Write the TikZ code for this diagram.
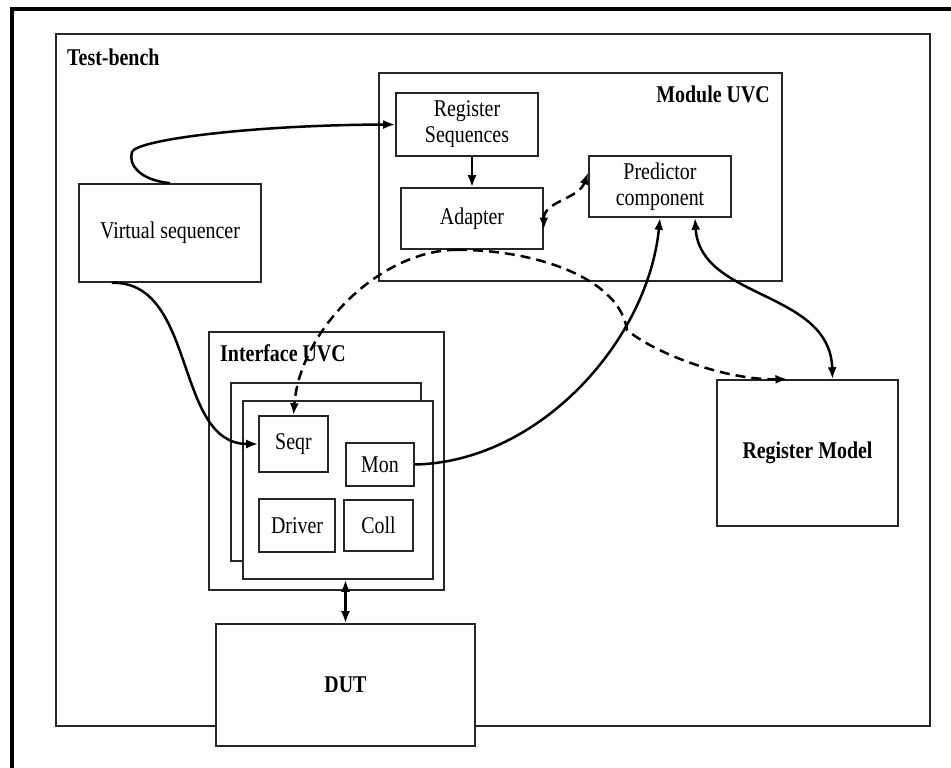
\documentclass[tikz,border=0pt]{standalone}
\usepackage{fontspec}
\setmainfont{Liberation Serif}[FakeStretch=0.83]
\usepackage{tikz}
\usetikzlibrary{arrows.meta,calc}
\newcommand{\diagfont}{\fontsize{24}{26}\selectfont}

\begin{document}
\begin{tikzpicture}[x=1pt,y=1pt,>={Latex[length=12pt,width=9pt]},
  every node/.style={font=\diagfont},
  box/.style={draw=black!85,line width=1.6pt,fill=white,inner sep=0pt,align=center},
  title/.style={font=\diagfont\bfseries,inner sep=0pt},
  link/.style={line width=2.5pt},
  dashlink/.style={link,dash pattern=on 10pt off 6pt}]
  \useasboundingbox (0,0) rectangle (951,-768);
  \clip (0,0) rectangle (951,-768);
  % page frame, runs off the right and bottom edges
  \draw[line width=3.5pt] (12,-9) rectangle (980,-800);

  % containers
  \node[box,minimum width=874,minimum height=692] (tb) at (493,-380) {};
  \node[title,anchor=west] (tblbl) at (67,-57) {Test-bench};
  \node[box,minimum width=403,minimum height=208] (muvc) at (580.5,-177) {};
  \node[title,anchor=east] (muvclbl) at (770,-94) {Module UVC};

  % module UVC parts
  \node[box,minimum width=142,minimum height=63] (rs) at (467,-124.5) {Register\\Sequences};
  \node[box,minimum width=142,minimum height=61] (ad) at (472,-218.5) {Adapter};
  \node[box,minimum width=142,minimum height=61] (pc) at (660,-186.5) {Predictor\\component};
  \node[box,minimum width=182,minimum height=98] (vs) at (170,-233) {Virtual sequencer};

  % interface UVC, two stacked agents
  \node[box,minimum width=235,minimum height=258] (iuvc) at (326.5,-461) {};
  \node[title,anchor=west] (iuvclbl) at (220,-353) {Interface UVC};
  \node[box,minimum width=190,minimum height=178] (back) at (326,-472) {};
  \node[box,minimum width=190,minimum height=178] (front) at (338,-490) {};
  \node[box,minimum width=69,minimum height=56] (seqr) at (293.5,-444) {Seqr};
  \node[box,minimum width=68,minimum height=43] (mon) at (380,-464.5) {Mon};
  \node[box,minimum width=76,minimum height=53] (drv) at (297,-525.5) {Driver};
  \node[box,minimum width=69,minimum height=51] (coll) at (378.5,-525.5) {Coll};

  \node[box,minimum width=181,minimum height=146,font=\diagfont\bfseries] (rm) at (807.5,-453) {Register Model};
  \node[box,minimum width=259,minimum height=122,font=\diagfont\bfseries] (dut) at (345.5,-685) {DUT};

  % connections
  \draw[link,->] (vs.north) .. controls (140,-180) and (128,-165) .. (132,-152)
    .. controls (136,-140) and (250,-125) .. (rs.west);
  \draw[link,->] (ad.north |- rs.south) -- (ad.north);
  \draw[dashlink,<->] ([yshift=-11pt]ad.east) to[out=90,in=-110] ([yshift=14pt]pc.west);
  \draw[dashlink,->] ([xshift=-15pt]ad.south) .. controls (380,-250) and (300,-330) .. (seqr.north);
  \draw[dashlink,->] ([xshift=-15pt]ad.south) .. controls (540,-250) and (620,-280) .. (627,-330)
    .. controls (650,-350) and (720,-380) .. ([xshift=-20pt]rm.north);
  \draw[link,->] ([xshift=-58pt]vs.south) .. controls (197,-281) and (174,-444) .. (seqr.west);
  \draw[link,->] (mon.east) .. controls (540,-462) and (648,-340) .. (pc.south);
  \draw[link,<->] ([xshift=35pt]pc.south) .. controls (700,-300) and (830,-290) .. ([xshift=25pt]rm.north);
  \draw[link,<->] (dut.north |- front.south) -- (dut.north);
\end{tikzpicture}
\end{document}
